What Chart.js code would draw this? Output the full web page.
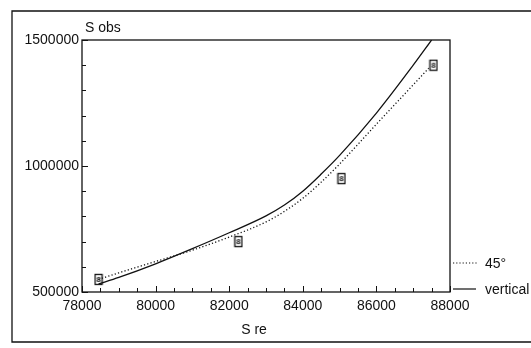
<!DOCTYPE html>
<html>
<head>
<meta charset="utf-8">
<script src="https://cdn.jsdelivr.net/npm/chart.js@4"></script>
<style>
  html, body { margin: 0; padding: 0; background: #fff; }
  #wrap { width: 531px; height: 348px; }
</style>
</head>
<body>
<div id="wrap"><canvas id="chart" width="531" height="348"></canvas></div>
<script>
// values
const xTickLabels = [78000, 80000, 82000, 84000, 86000, 88000];
const yTickLabels = [500000, 1000000, 1500000];

// "vertical" curve (solid)
const verticalX = [78450, 79000, 80000, 81000, 82000, 83000, 83500, 84000, 84500, 85000, 86000, 87000, 87500];
const verticalY = [532000, 558000, 612000, 672000, 735000, 802000, 845000, 900000, 968000, 1042000, 1210000, 1400000, 1500000];

// "45°" curve (dotted)
const deg45X = [78450, 79000, 80000, 81000, 82000, 83000, 83500, 84000, 84500, 85000, 86000, 87000, 87420];
const deg45Y = [550000, 576000, 621000, 666000, 718000, 778000, 820000, 872000, 936000, 1008000, 1166000, 1322000, 1388000];

// observed points
const obsX = [78450, 82250, 85050, 87550];
const obsY = [550000, 700000, 950000, 1400000];

const FONT = '"Liberation Sans", Arial, sans-serif';
const INK = '#111';

function pairs(xs, ys) {
    return xs.map((x, i) => ({ x: x, y: ys[i] }));
}

// little boxed "8" marker like the original plot symbol
function makeMarker() {
    const c = document.createElement('canvas');
    c.width = 10; c.height = 13;
    const g = c.getContext('2d');
    g.strokeStyle = INK;
    g.lineWidth = 1.3;
    g.strokeRect(1.5, 1.5, 7, 10);
    g.fillStyle = INK;
    g.font = 'bold 8px ' + FONT;
    g.textAlign = 'center';
    g.textBaseline = 'middle';
    g.fillText('8', 5, 7);
    return c;
}

// frame, plot box, inward ticks, titles and legend
const decorations = {
    id: 'decorations',
    afterDraw(chart) {
        const ctx = chart.ctx;
        const a = chart.chartArea;
        const xs = chart.scales.x, ys = chart.scales.y;
        ctx.save();
        ctx.strokeStyle = INK;
        ctx.lineWidth = 1.3;

        // outer frame (right side runs off the page)
        ctx.beginPath();
        ctx.moveTo(540, 11);
        ctx.lineTo(12, 11);
        ctx.lineTo(12, 342);
        ctx.lineTo(540, 342);
        ctx.stroke();

        // plot box
        ctx.strokeRect(a.left, a.top, a.right - a.left, a.bottom - a.top);

        // inward ticks on x
        ctx.lineWidth = 1;
        ctx.beginPath();
        for (let v = 78000; v <= 88000; v += 500) {
            const px = Math.round(xs.getPixelForValue(v)) + 0.5;
            const len = (v % 2000 === 0) ? 6 : 4;
            ctx.moveTo(px, a.bottom);
            ctx.lineTo(px, a.bottom - len);
        }
        // inward ticks on y
        for (let v = 500000; v <= 1500000; v += 100000) {
            const py = Math.round(ys.getPixelForValue(v)) + 0.5;
            const len = (v % 500000 === 0) ? 6 : 4;
            ctx.moveTo(a.left, py);
            ctx.lineTo(a.left + len, py);
        }
        ctx.stroke();

        // axis titles
        ctx.fillStyle = INK;
        ctx.font = '14px ' + FONT;
        ctx.textBaseline = 'middle';
        ctx.textAlign = 'left';
        ctx.fillText('S obs', 85, 28);
        ctx.textAlign = 'center';
        ctx.fillText('S re', 254, 330);

        // legend
        ctx.textAlign = 'left';
        ctx.lineWidth = 1.2;
        ctx.setLineDash([1.2, 2]);
        ctx.beginPath();
        ctx.moveTo(453, 263);
        ctx.lineTo(477, 263);
        ctx.stroke();
        ctx.setLineDash([]);
        ctx.beginPath();
        ctx.moveTo(453, 289);
        ctx.lineTo(476, 289);
        ctx.stroke();
        ctx.fillText('45\u00b0', 485, 264);
        ctx.fillText('vertical', 485, 290);
        ctx.restore();
    }
};

const marker = makeMarker();

new Chart(document.getElementById('chart'), {
    type: 'scatter',
    data: {
        datasets: [
            {
                label: 'vertical',
                data: pairs(verticalX, verticalY),
                showLine: true,
                borderColor: INK,
                borderWidth: 1.3,
                pointRadius: 0,
                cubicInterpolationMode: 'monotone'
            },
            {
                label: '45\u00b0',
                data: pairs(deg45X, deg45Y),
                showLine: true,
                borderColor: INK,
                borderWidth: 1.3,
                borderDash: [1.2, 2.2],
                pointRadius: 0,
                cubicInterpolationMode: 'monotone'
            },
            {
                label: 'obs',
                data: pairs(obsX, obsY),
                showLine: false,
                pointStyle: marker,
                pointRadius: 5,
                borderColor: INK
            }
        ]
    },
    options: {
        responsive: false,
        animation: false,
        events: [],
        layout: { padding: { left: 0, right: 81, top: 40, bottom: 0 } },
        plugins: {
            legend: { display: false },
            tooltip: { enabled: false }
        },
        scales: {
            x: {
                type: 'linear',
                min: 78000,
                max: 88000,
                grid: { display: false, drawTicks: false },
                border: { display: false },
                afterBuildTicks(s) { s.ticks = xTickLabels.map(v => ({ value: v })); },
                afterFit(s) { s.height = 56; },
                ticks: {
                    padding: 6,
                    color: INK,
                    font: { family: FONT, size: 14 },
                    maxRotation: 0,
                    callback: v => String(v)
                }
            },
            y: {
                type: 'linear',
                min: 500000,
                max: 1500000,
                grid: { display: false, drawTicks: false },
                border: { display: false },
                afterBuildTicks(s) { s.ticks = yTickLabels.map(v => ({ value: v })); },
                afterFit(s) { s.width = 82; },
                ticks: {
                    padding: 3,
                    color: INK,
                    font: { family: FONT, size: 14 },
                    callback: v => String(v)
                }
            }
        }
    },
    plugins: [decorations]
});
</script>
</body>
</html>
